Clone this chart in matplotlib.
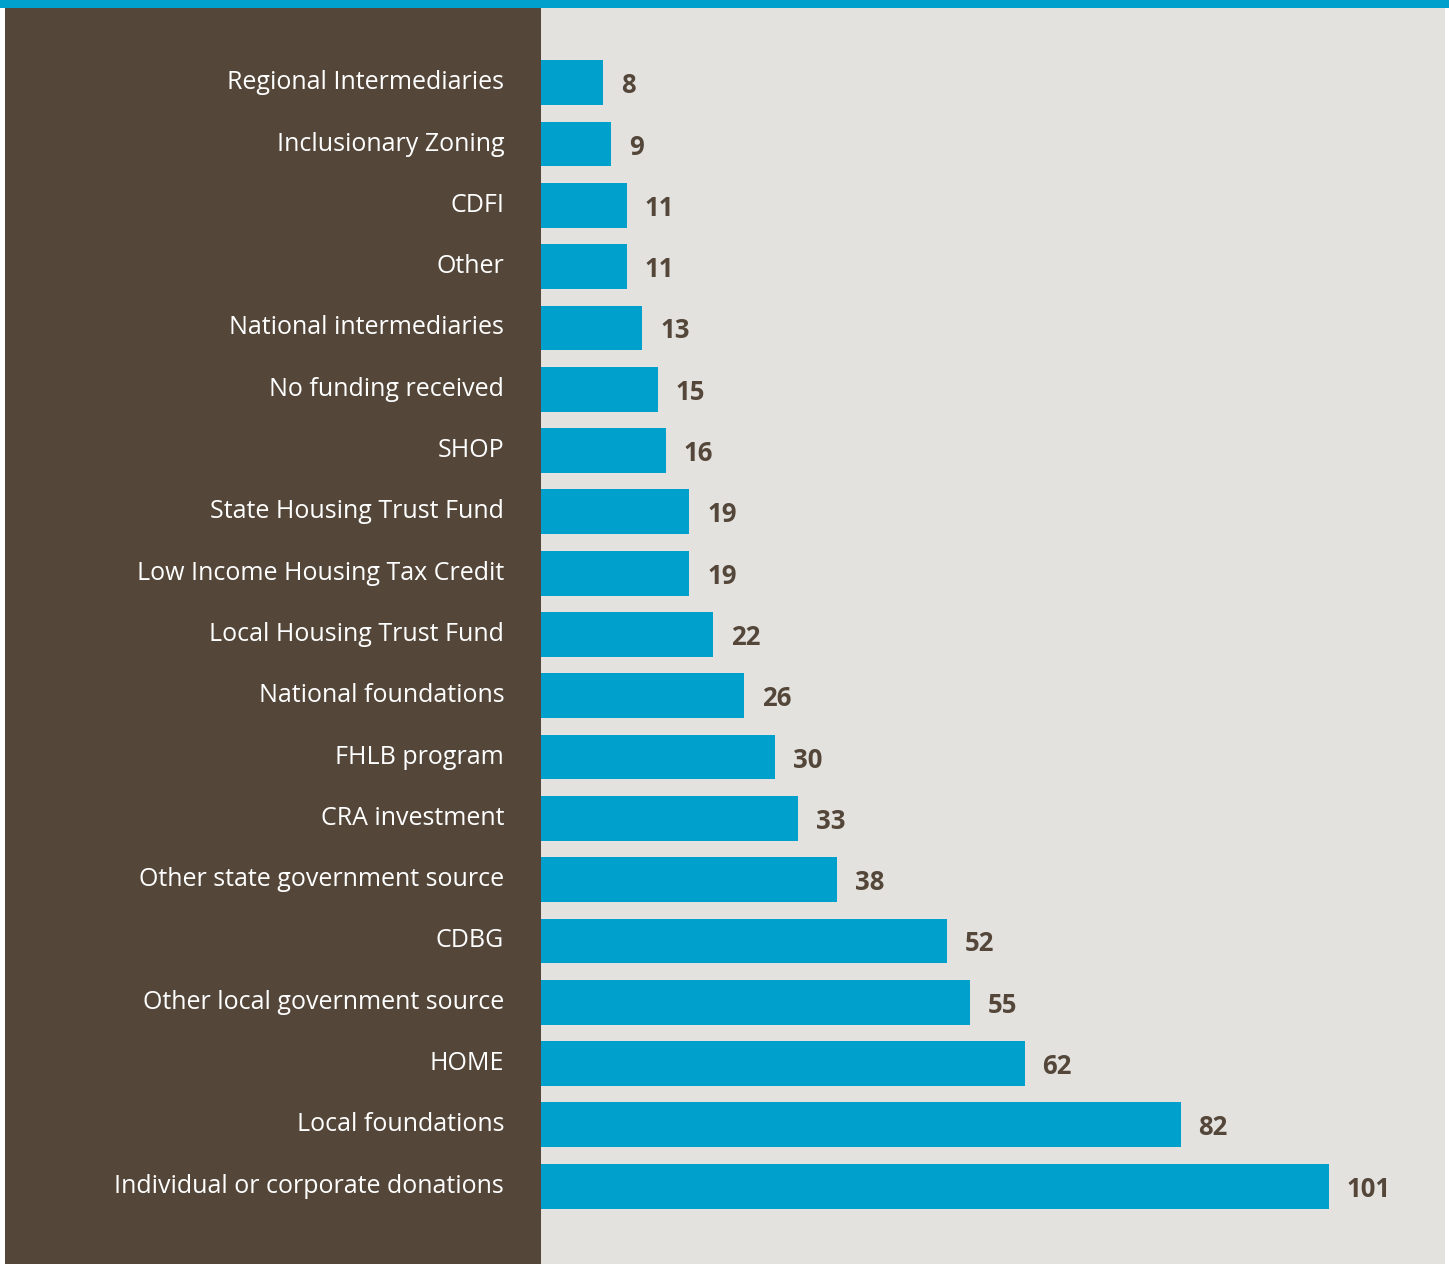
import matplotlib
matplotlib.use("Agg")
import matplotlib.pyplot as plt
from matplotlib.patches import Rectangle

categories = ["Regional Intermediaries", "Inclusionary Zoning", "CDFI", "Other",
              "National intermediaries", "No funding received", "SHOP",
              "State Housing Trust Fund", "Low Income Housing Tax Credit",
              "Local Housing Trust Fund", "National foundations", "FHLB program",
              "CRA investment", "Other state government source", "CDBG",
              "Other local government source", "HOME", "Local foundations",
              "Individual or corporate donations"]
values = [8, 9, 11, 11, 13, 15, 16, 19, 19, 22, 26, 30, 33, 38, 52, 55, 62, 82, 101]

W, H = 1449, 1264
BLUE = "#00a0cc"
BROWN = "#54473a"
GRAY = "#e4e2df"

fig = plt.figure(figsize=(W / 100, H / 100), dpi=100)
fig.patch.set_facecolor("white")

# top blue strip
fig.add_artist(Rectangle((0, (H - 8) / H), 1, 8 / H, transform=fig.transFigure,
                         facecolor=BLUE, edgecolor="none", zorder=-2))
# brown label panel
fig.add_artist(Rectangle((5 / W, 0), (541 - 5) / W, (H - 8) / H, transform=fig.transFigure,
                         facecolor=BROWN, edgecolor="none", zorder=-2))

ax = fig.add_axes([541 / W, 0, (1445 - 541) / W, (H - 8) / H])
ax.set_facecolor(GRAY)
n = len(categories)
ys = list(range(n))
ax.barh(ys, values, height=0.73, color=BLUE, left=0)
ax.set_xlim(0, (1445 - 541) / 7.8)
ax.set_ylim(n - 1 + 1.27, -1.22)
for s in ax.spines.values():
    s.set_visible(False)
ax.set_xticks([])
ax.set_yticks(ys)
ax.set_yticklabels(categories, fontsize=18, color="white", family="Open Sans")
ax.tick_params(axis="y", length=0, pad=26.5)
for lbl in ax.get_yticklabels():
    lbl.set_va("center")

for y, v in zip(ys, values):
    ax.annotate(str(v), (v, y), xytext=(18, -3), textcoords="offset pixels",
                va="center", ha="left", fontsize=18.5, fontweight="bold", color=BROWN,
                family="Open Sans")

fig.savefig("out.png", dpi=100, facecolor=fig.get_facecolor())
